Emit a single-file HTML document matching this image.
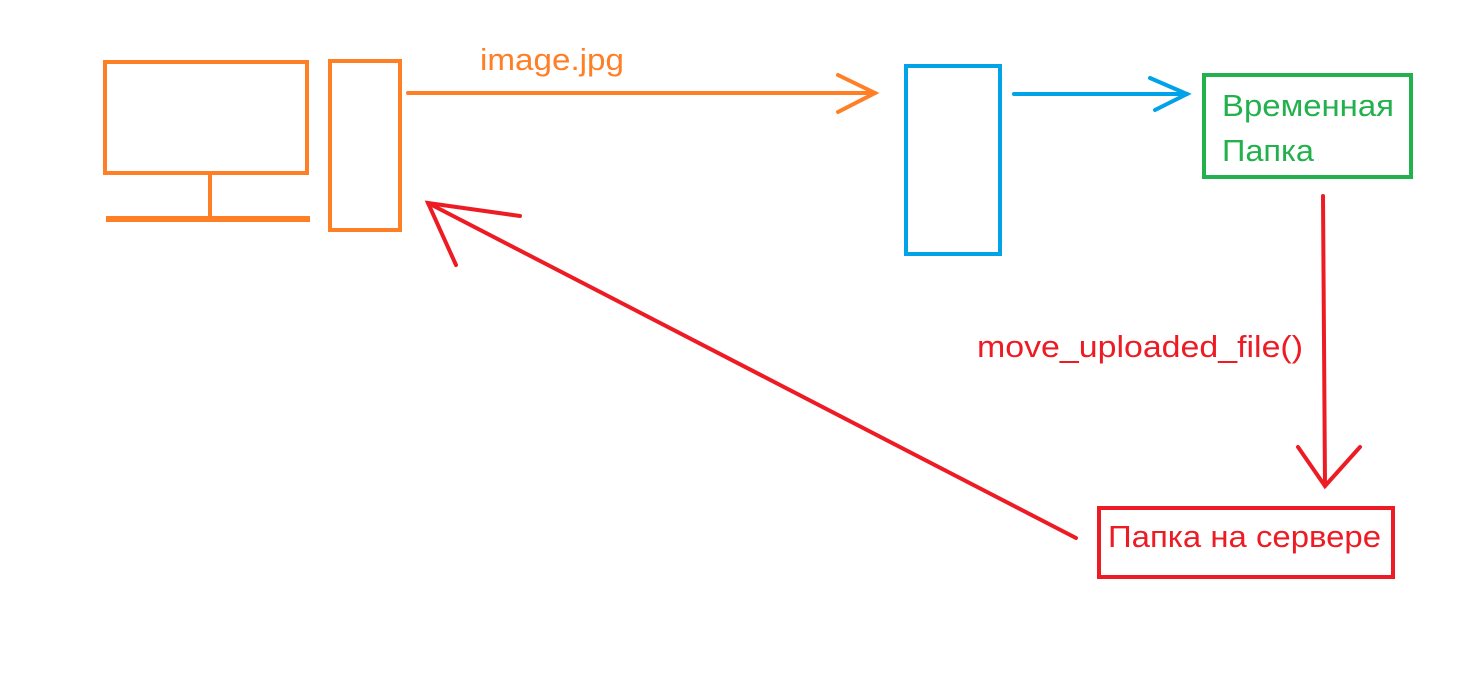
<!DOCTYPE html>
<html>
<head>
<meta charset="utf-8">
<style>
html,body{margin:0;padding:0;background:#fff;}
svg{display:block;}
text{font-family:"Liberation Sans","DejaVu Sans",sans-serif;font-size:31px;}
</style>
</head>
<body>
<svg width="1472" height="674" viewBox="0 0 1472 674" xmlns="http://www.w3.org/2000/svg">
  <rect x="0" y="0" width="1472" height="674" fill="#fff"/>
  <g stroke="#ff7f27" fill="none" stroke-width="4">
    <rect x="105" y="62" width="202" height="111"/>
    <line x1="210" y1="173" x2="210" y2="216"/>
    <line x1="106" y1="219" x2="310" y2="219" stroke-width="6"/>
    <rect x="330" y="61" width="70" height="169"/>
  </g>
  <g stroke="#ff7f27" fill="none" stroke-width="4" stroke-linecap="round">
    <line x1="408" y1="93" x2="875" y2="93"/>
    <polyline points="838,75 875,93 838,112"/>
  </g>
  <text x="480" y="70" textLength="144" lengthAdjust="spacingAndGlyphs" fill="#ff7f27">image.jpg</text>

  <rect x="906" y="66" width="94" height="188" fill="none" stroke="#00a2e8" stroke-width="4"/>
  <g stroke="#00a2e8" fill="none" stroke-width="4" stroke-linecap="round">
    <line x1="1014" y1="94" x2="1187" y2="94"/>
    <polyline points="1150,78 1187,94 1155,110"/>
  </g>

  <rect x="1204" y="75" width="207" height="102" fill="none" stroke="#22b14c" stroke-width="4"/>
  <text x="1222" y="116" textLength="172" lengthAdjust="spacingAndGlyphs" fill="#22b14c">Временная</text>
  <text x="1222" y="161" textLength="92" lengthAdjust="spacingAndGlyphs" fill="#22b14c">Папка</text>

  <g stroke="#ed1c24" fill="none" stroke-width="4" stroke-linecap="round">
    <line x1="1323" y1="196" x2="1325" y2="486"/>
    <polyline points="1298,447 1325,486 1360,447"/>
  </g>
  <text x="977" y="357" textLength="326" lengthAdjust="spacingAndGlyphs" fill="#ed1c24">move_uploaded_file()</text>

  <rect x="1099" y="508" width="294" height="69" fill="none" stroke="#ed1c24" stroke-width="4"/>
  <text x="1108" y="547" textLength="273" lengthAdjust="spacingAndGlyphs" fill="#ed1c24">Папка на сервере</text>

  <g stroke="#ed1c24" fill="none" stroke-width="4" stroke-linecap="round">
    <line x1="1076" y1="538" x2="428" y2="203"/>
    <polyline points="520,216 428,203 456,265"/>
  </g>
</svg>
</body>
</html>
